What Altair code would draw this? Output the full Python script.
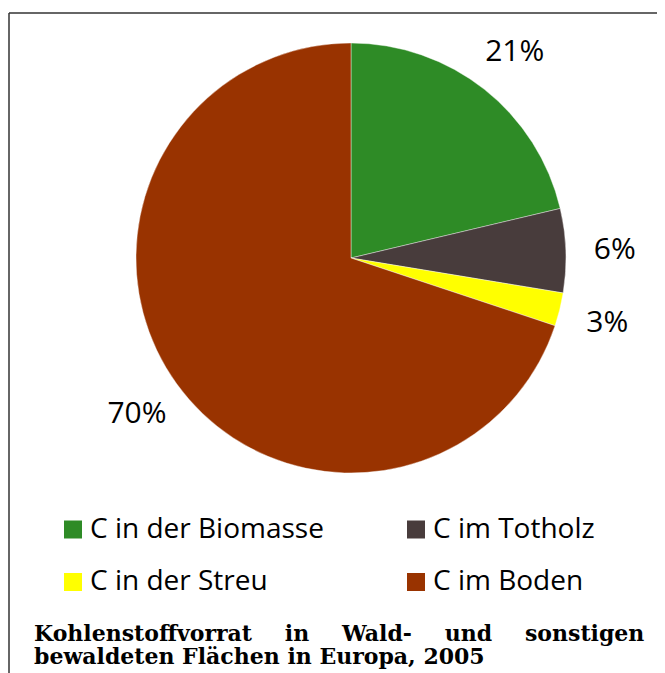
import altair as alt
import pandas as pd

categories = ["C in der Biomasse", "C im Totholz", "C in der Streu", "C im Boden"]
shares = [21.3, 6.3, 2.5, 69.9]
labels = ["21%", "6%", "3%", "70%"]
colors = ["#2E8B26", "#483C3C", "#FFFF00", "#993300"]

gap = "\u00a0" * 4 + "\u200a"
caption_line1 = gap.join(["Kohlenstoffvorrat", "in", "Wald-", "und", "sonstigen"])
caption_line2 = "bewaldeten Flächen in Europa, 2005"

W, H = 648, 665

df = pd.DataFrame({
    "Kategorie": categories,
    "Anteil": shares,
    "Label": labels,
    "Reihenfolge": list(range(len(categories))),
})

base = alt.Chart(df).encode(
    theta=alt.Theta("Anteil:Q", stack=True),
    order=alt.Order("Reihenfolge:O"),
    x=alt.value(342),
    y=alt.value(245),
)

pie = base.mark_arc(outerRadius=215, stroke="#ffffff", strokeWidth=0.4).encode(
    color=alt.Color(
        "Kategorie:N",
        scale=alt.Scale(domain=categories, range=colors),
        sort=categories,
        legend=alt.Legend(
            orient="none", legendX=50, legendY=502.5, columns=2,
            direction="horizontal",
            title=None, symbolType="square", symbolSize=324,
            symbolStrokeWidth=0, labelFont="Open Sans", labelFontSize=28,
            labelColor="#000000", labelOffset=3, columnPadding=78,
            rowPadding=24.5, labelLimit=400,
        ),
    )
)

text = base.mark_text(radius=264, dy=1.5, font="Open Sans", fontSize=30, color="#000000").encode(
    text="Label:N"
)

frame_df = pd.DataFrame({"r": [0]})
top_line = alt.Chart(frame_df).mark_rule(color="#333333", strokeWidth=1.5).encode(
    x=alt.value(0), x2=alt.value(W), y=alt.value(0)
)
left_line = alt.Chart(frame_df).mark_rule(color="#333333", strokeWidth=1.5).encode(
    x=alt.value(0), y=alt.value(0), y2=alt.value(H)
)

chart = alt.layer(pie, text, top_line, left_line).properties(
    width=W,
    height=H,
    padding={"left": 1, "top": 5, "right": 0, "bottom": 0},
    autosize="none",
    title=alt.TitleParams(
        text=[caption_line1, caption_line2],
        orient="bottom", anchor="start", frame="group",
        font="DejaVu Serif", fontWeight="bold", fontSize=22, lineHeight=22.5,
        color="#000000", baseline="alphabetic", dx=25, dy=-37.5, offset=0,
    ),
).configure_view(strokeWidth=0)

chart.save("out.html", embed_options={"renderer": "svg", "actions": False})
